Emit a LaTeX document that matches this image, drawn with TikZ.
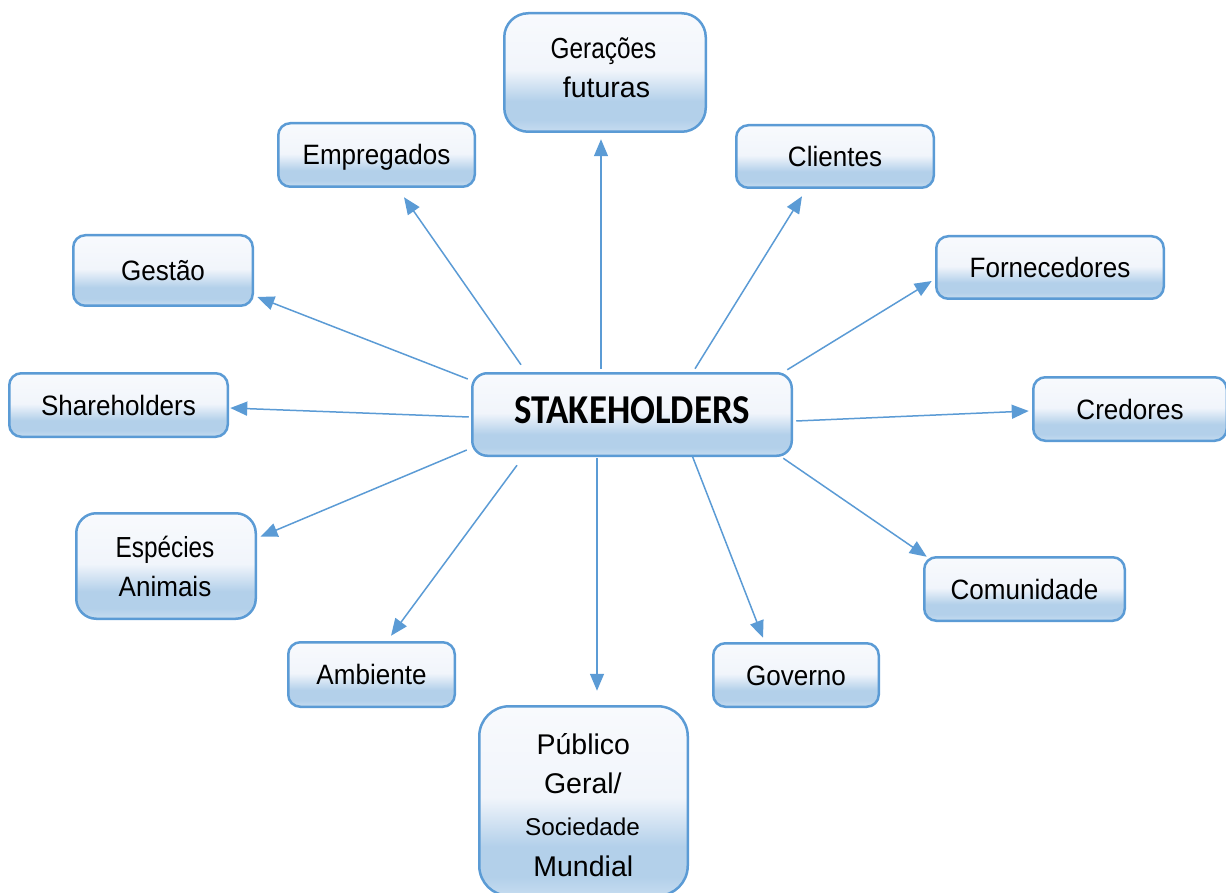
\documentclass[tikz,border=0pt]{standalone}
\usepackage{fontspec}
\setmainfont{Liberation Sans}
\newfontfamily\lblfont{Liberation Sans}[FakeStretch=0.93]
\newfontfamily\narrowfont{Liberation Sans}[FakeStretch=0.84]
\newfontfamily\stakefont{Carlito}[FakeStretch=0.9]
\usetikzlibrary{arrows.meta}

\definecolor{edge}{HTML}{5B9BD5}
\definecolor{fillbot}{HTML}{C6DCF0}
\definecolor{fillblue}{HTML}{B3D0EA}
\definecolor{fillpale}{HTML}{F1F5FB}
\definecolor{filltop}{HTML}{F8FAFD}
% pale top half, light blue band towards the bottom
\pgfdeclareverticalshading{boxfill}{100bp}{color(0bp)=(fillbot); color(25bp)=(fillbot); color(30bp)=(fillblue); color(38bp)=(fillblue); color(51bp)=(fillpale); color(75bp)=(filltop); color(100bp)=(filltop)}

\tikzset{
  box/.style={draw=edge, line width=2.5pt, shade, shading=boxfill,
              rounded corners=12pt, inner sep=0pt},
  lbl/.style={font=\lblfont\fontsize{28}{32}\selectfont,
              text height=20pt, text depth=0pt},
  txt/.style={anchor=base, inner sep=0pt},
  link/.style={draw=edge, line width=1.5pt,
               -{Triangle[length=17pt,width=14pt]}}
}

\begin{document}
\begin{tikzpicture}[x=1pt, y=-1pt]
\useasboundingbox (0,0) rectangle (1226,893);

% central node
\node[box, rounded corners=15pt, minimum width=319.5pt, minimum height=82.5pt,
      font=\stakefont\bfseries\fontsize{41}{45}\selectfont,
      text height=26.4pt, text depth=9pt] (stk) at (632,414.5) {STAKEHOLDERS};

% single-line boxes
\node[box, lbl, minimum width=196.5pt, minimum height=63.5pt] (emp) at (376.5,155) {Empregados};
\node[box, lbl, minimum width=197.5pt, minimum height=62.5pt] (cli) at (835,156.5) {Clientes};
\node[box, lbl, minimum width=179.5pt, minimum height=70.5pt] (ges) at (163,270.5) {Gestão};
\node[box, lbl, minimum width=227.5pt, minimum height=62.5pt] (forn) at (1050,267.5) {Fornecedores};
\node[box, lbl, minimum width=218.5pt, minimum height=63.5pt] (sha) at (118.5,405) {Shareholders};
\node[box, lbl, minimum width=193.5pt, minimum height=63.5pt] (cre) at (1130,409) {Credores};
\node[box, lbl, minimum width=200.5pt, minimum height=63.5pt] (com) at (1024.5,589) {Comunidade};
\node[box, lbl, minimum width=166.5pt, minimum height=64.5pt] (amb) at (371.5,674.5) {Ambiente};
\node[box, lbl, minimum width=165.5pt, minimum height=63.5pt] (gov) at (796,675) {Governo};

% multi-line boxes
\node[box, rounded corners=24pt, minimum width=201.5pt, minimum height=118.5pt] (ger) at (605,72.5) {};
\node[txt, font=\narrowfont\fontsize{29}{32}\selectfont] (ger-a) at (603.5,59) {Gerações};
\node[txt, font=\fontsize{28.5}{32}\selectfont] (ger-b) at (606.5,97.3) {futuras};

\node[box, rounded corners=20pt, minimum width=179.5pt, minimum height=105.5pt] (esp) at (166,566) {};
\node[txt, font=\narrowfont\fontsize{29}{32}\selectfont] (esp-a) at (165,557.3) {Espécies};
\node[txt, font=\lblfont\fontsize{28}{32}\selectfont] (esp-b) at (165,596.7) {Animais};

\node[box, rounded corners=30pt, minimum width=208.5pt, minimum height=189.5pt] (pub) at (583.5,801) {};
\node[txt, font=\fontsize{28.5}{32}\selectfont] (pub-a) at (583.3,754) {Público};
\node[txt, font=\fontsize{28.5}{32}\selectfont] (pub-b) at (582.8,793) {Geral/};
\node[txt, font=\fontsize{24.3}{28}\selectfont] (pub-c) at (582.5,835) {Sociedade};
\node[txt, font=\fontsize{28.5}{32}\selectfont] (pub-d) at (583.3,876.7) {Mundial};

% connectors from the centre outwards
\draw[link] ([shift={(-31,-3.25)}]stk.north) -- ([shift={(-4,6.25)}]ger.south);
\draw[link] ([shift={(-111,-7.25)}]stk.north) -- ([shift={(27.5,9.25)}]emp.south);
\draw[link] ([shift={(63,-3.25)}]stk.north) -- ([shift={(-33,7.25)}]cli.south);
\draw[link] ([shift={(-3.25,-35.5)}]stk.west) -- ([shift={(3.25,26.5)}]ges.east);
\draw[link] ([shift={(-5.75,-2.25)}]stk.north east) -- ([shift={(-3.25,13.5)}]forn.west);
\draw[link] ([shift={(-2.25,2.5)}]stk.west) -- ([shift={(1.25,3)}]sha.east);
\draw[link] ([shift={(3.25,6.5)}]stk.east) -- ([shift={(-3.25,2)}]cre.west);
\draw[link] ([shift={(-4.25,35.5)}]stk.west) -- ([shift={(3.5,-29.3)}]esp.east);
\draw[link] ([shift={(-9.75,1.25)}]stk.south east) -- ([shift={(3.75,0.75)}]com.north west);
\draw[link] ([shift={(-115,8.25)}]stk.south) -- ([shift={(19.5,-5.25)}]amb.north);
\draw[link] ([shift={(60,-1.75)}]stk.south) -- ([shift={(-33,-4.25)}]gov.north);
\draw[link] ([shift={(-35,1.25)}]stk.south) -- ([shift={(13.5,-14.25)}]pub.north);
\end{tikzpicture}
\end{document}
